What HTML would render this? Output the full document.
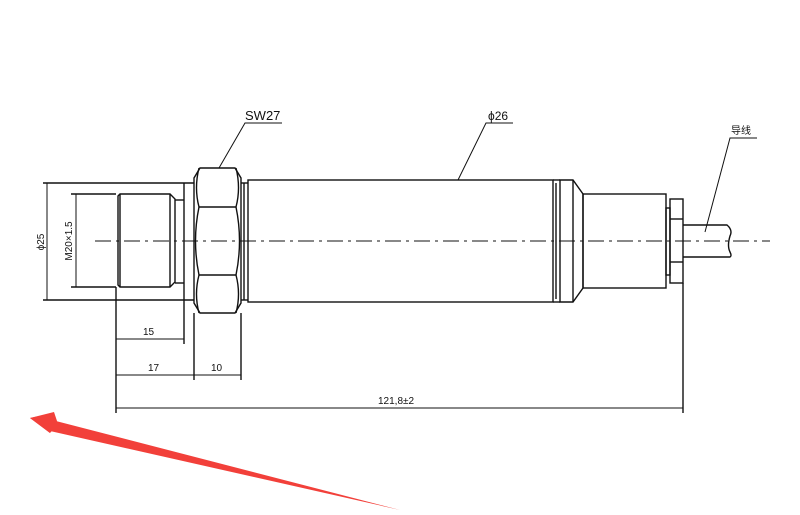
<!DOCTYPE html>
<html><head><meta charset="utf-8"><style>html,body{margin:0;padding:0;background:#fff}svg{display:block}</style></head>
<body>
<svg width="800" height="515" viewBox="0 0 800 515" xmlns="http://www.w3.org/2000/svg">
<rect width="800" height="515" fill="#fff"/>
<g stroke="#111" stroke-width="1.4" fill="none">
<!-- phi25 dim -->
<line x1="43" y1="183" x2="116" y2="183"/>
<line x1="43" y1="300" x2="116" y2="300"/>
<line x1="47" y1="183" x2="47" y2="300" stroke-width="1"/>
<!-- M20 dim -->
<line x1="71" y1="194" x2="116" y2="194"/>
<line x1="71" y1="287" x2="116" y2="287"/>
<line x1="76" y1="194" x2="76" y2="287" stroke-width="1"/>
<!-- thread -->
<path d="M118,196 L120,194 L170,194 L175,199 L175,282 L170,287 L120,287 L118,285 Z"/>
<line x1="120" y1="194" x2="120" y2="287"/>
<line x1="170" y1="194" x2="170" y2="287"/>
<line x1="175" y1="200" x2="184" y2="200"/>
<line x1="175" y1="283" x2="184" y2="283"/>
<line x1="184" y1="183" x2="184" y2="300"/>
<line x1="116" y1="183" x2="194" y2="183"/>
<line x1="116" y1="300" x2="194" y2="300"/>
<!-- hex -->
<path d="M200,168 L235,168 L241,178 L241,303 L235,313 L200,313 L194,303 L194,178 Z"/>
<line x1="199" y1="207" x2="236" y2="207"/>
<line x1="199" y1="275" x2="236" y2="275"/>
<path d="M199,207 Q192,241 199,275 M236,207 Q243,241 236,275"/>
<path d="M199,168 Q194,188 199,207 M236,168 Q241,188 236,207 M199,275 Q194,294 199,313 M236,275 Q241,294 236,313"/>
<line x1="241" y1="183" x2="248" y2="183"/>
<line x1="241" y1="300" x2="248" y2="300"/>
<line x1="244" y1="183" x2="244" y2="300"/>
<!-- body -->
<rect x="248" y="180" width="305" height="122"/>
<!-- rings -->
<line x1="553" y1="180" x2="560" y2="180"/>
<line x1="553" y1="302" x2="560" y2="302"/>
<line x1="556" y1="183" x2="556" y2="299"/>
<path d="M560,180 L573,180 L583,194 L583,288 L573,302 L560,302 Z"/>
<line x1="573" y1="180" x2="573" y2="302"/>
<rect x="583" y="194" width="83" height="94"/>
<rect x="666" y="208" width="4" height="67"/>
<rect x="670" y="199" width="13" height="84"/>
<line x1="670" y1="219" x2="683" y2="219"/>
<line x1="670" y1="262" x2="683" y2="262"/>
<path d="M683,225 L727,225 Q733,230 730,236 Q727,246 730,252 Q732,256 730,257 L683,257"/>
<!-- extension lines -->
<line x1="116" y1="287" x2="116" y2="413"/>
<line x1="184" y1="300" x2="184" y2="344"/>
<line x1="194" y1="313" x2="194" y2="380"/>
<line x1="241" y1="313" x2="241" y2="380"/>
<line x1="683" y1="283" x2="683" y2="413"/>
<!-- dims -->
<line x1="116" y1="339" x2="184" y2="339" stroke-width="1"/>
<line x1="116" y1="375" x2="241" y2="375" stroke-width="1"/>
<line x1="116" y1="408" x2="683" y2="408" stroke-width="1"/>
<!-- leaders -->
<polyline points="219,168 245,123 282,123" stroke-width="1"/>
<polyline points="458,180 486,123 513,123" stroke-width="1"/>
<polyline points="705,232 730,138 757,138" stroke-width="1"/>
</g>
<line x1="95" y1="241" x2="770" y2="241" stroke="#111" stroke-width="1" stroke-dasharray="16,5,3,5"/>
<g font-family="Liberation Sans, Noto Sans CJK SC, sans-serif" fill="#111">
<text x="245" y="120" font-size="13">SW27</text>
<text x="488" y="120" font-size="12">ϕ26</text>
<text x="731" y="134" font-size="10">导线</text>
<text x="143" y="335" font-size="10">15</text>
<text x="148" y="371" font-size="10">17</text>
<text x="211" y="371" font-size="10">10</text>
<text x="378" y="404" font-size="10">121,8±2</text>
<text transform="translate(44,242) rotate(-90)" font-size="10" text-anchor="middle">ϕ25</text>
<text transform="translate(72,241) rotate(-90)" font-size="10" text-anchor="middle">M20×1.5</text>
</g>
<polygon points="30,418 54,413 52,420 400,510 50,431 50,433" fill="#f2403a"/>
<polygon points="30,418 54,412 58,424 50,433" fill="#f2403a"/>
</svg>
</body></html>
